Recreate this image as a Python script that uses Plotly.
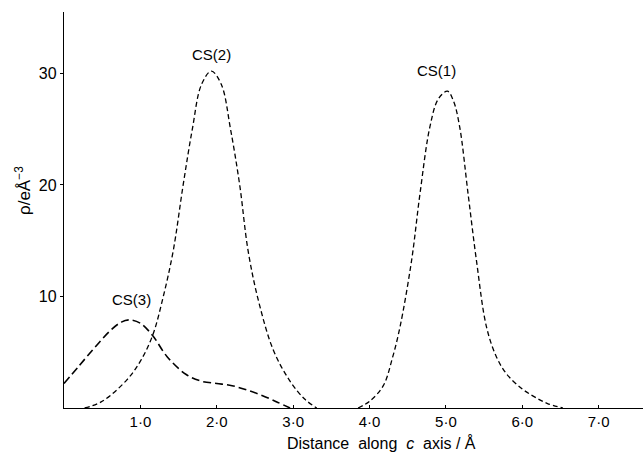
import plotly.graph_objects as go

# CS(3) density profile
cs3_x = [0.0, 0.2, 0.4, 0.6, 0.75, 0.86, 1.0, 1.16, 1.35, 1.6, 1.8, 2.0, 2.2, 2.4, 2.6, 2.8, 2.96]
cs3_y = [2.2, 3.8, 5.4, 6.9, 7.7, 7.9, 7.6, 6.5, 4.6, 3.0, 2.4, 2.2, 2.0, 1.6, 1.1, 0.5, 0.0]

# CS(2) density profile
cs2_x = [0.27, 0.5, 0.82, 1.0, 1.16, 1.3, 1.43, 1.56, 1.68, 1.8, 1.93, 2.06, 2.18, 2.3, 2.41, 2.55, 2.74, 2.95, 3.15, 3.31]
cs2_y = [0.0, 0.6, 2.5, 4.2, 6.5, 10.0, 14.1, 20.0, 25.0, 29.0, 30.2, 29.0, 25.0, 20.0, 14.1, 9.5, 5.2, 2.5, 0.8, 0.0]

# CS(1) density profile
cs1_x = [3.85, 4.0, 4.18, 4.3, 4.40, 4.55, 4.66, 4.79, 4.9, 5.02, 5.1, 5.18, 5.29, 5.40, 5.53, 5.66, 5.8, 6.0, 6.16, 6.33, 6.53]
cs1_y = [0.0, 0.6, 2.0, 4.5, 7.3, 13.2, 19.2, 25.2, 27.7, 28.4, 27.5, 25.2, 19.2, 13.2, 7.3, 4.6, 3.0, 1.7, 1.0, 0.4, 0.0]

x_tick_vals = [1, 2, 3, 4, 5, 6, 7]
x_tick_text = ["1·0", "2·0", "3·0", "4·0", "5·0", "6·0", "7·0"]
y_tick_vals = [10, 20, 30]
y_tick_text = ["10", "20", "30"]

label_names = ["CS(3)", "CS(2)", "CS(1)"]
label_x = [0.89, 1.93, 4.88]
label_y = [9.1, 31.1, 29.7]

FONT = "Liberation Sans, Arial, sans-serif"

fig = go.Figure()
fig.add_trace(go.Scatter(x=cs3_x, y=cs3_y, mode="lines", line=dict(color="black", width=1.6, dash="8px,4px", shape="spline"), showlegend=False))
fig.add_trace(go.Scatter(x=cs2_x, y=cs2_y, mode="lines", line=dict(color="black", width=1.3, dash="5px,3px", shape="spline"), showlegend=False))
fig.add_trace(go.Scatter(x=cs1_x, y=cs1_y, mode="lines", line=dict(color="black", width=1.3, dash="5px,3px", shape="spline"), showlegend=False))

for name, lx, ly in zip(label_names, label_x, label_y):
    fig.add_annotation(x=lx, y=ly, text=name, showarrow=False, font=dict(family=FONT, size=15, color="black"), yanchor="bottom", yshift=-4)

fig.add_annotation(xref="paper", yref="paper", x=(381 - 64) / 579, y=-0.088, text="Distance  along  <i>c</i>  axis / Å",
                   showarrow=False, font=dict(family=FONT, size=16, color="black"), xanchor="center", yanchor="middle")
fig.add_annotation(xref="paper", yref="paper", x=(23 - 64) / 579, y=0.548, text="ρ/eÅ<sup>−3</sup>", textangle=-90,
                   showarrow=False, font=dict(family=FONT, size=17, color="black"), xanchor="center", yanchor="middle")

fig.update_layout(
    width=643, height=453,
    margin=dict(l=64, r=0, t=12, b=45),
    paper_bgcolor="white", plot_bgcolor="white",
    xaxis=dict(range=[0, 7.58], showgrid=False, zeroline=False, showline=True, linecolor="black", linewidth=1.3,
               tickvals=x_tick_vals, ticktext=x_tick_text, ticks="inside", ticklen=3, tickcolor="black",
               tickfont=dict(family=FONT, size=15, color="black")),
    yaxis=dict(range=[0, 35.5], showgrid=False, zeroline=False, showline=True, linecolor="black", linewidth=1.3,
               tickvals=y_tick_vals, ticktext=y_tick_text, ticks="outside", ticklen=3, tickcolor="black",
               tickfont=dict(family=FONT, size=16, color="black")),
)

fig.write_html("out.html", config={"displayModeBar": False},
               post_script="document.body.style.margin='0px';document.body.style.overflow='hidden';")
